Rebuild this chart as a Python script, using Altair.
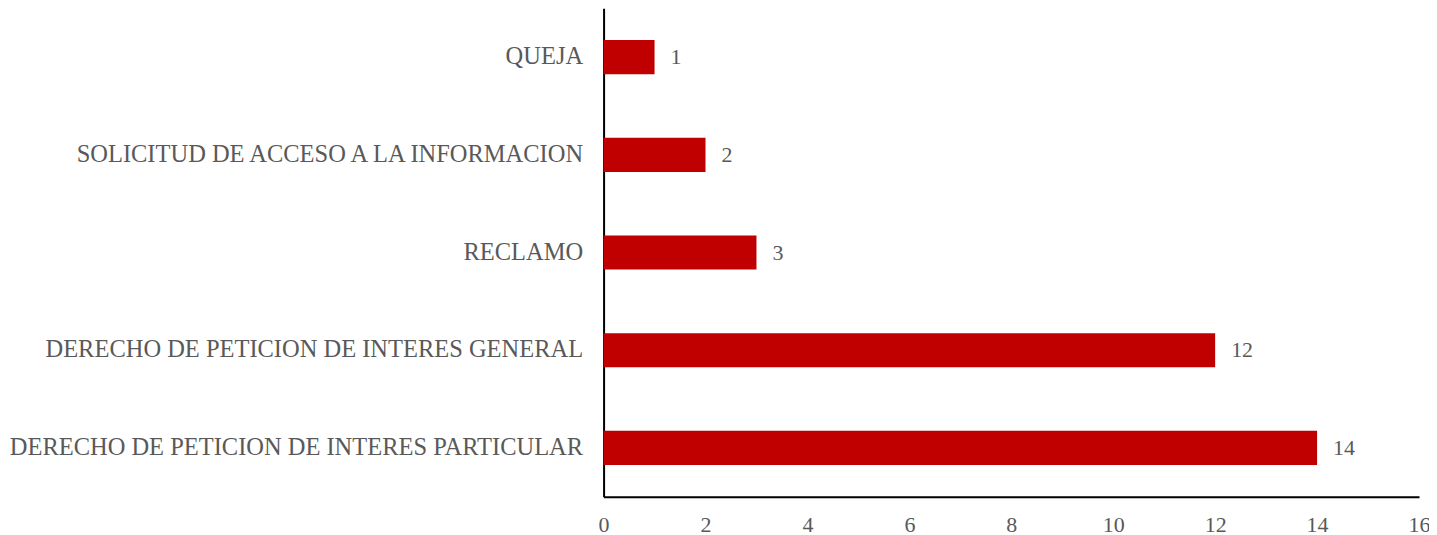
import altair as alt
import pandas as pd

categories = [
    "QUEJA",
    "SOLICITUD DE ACCESO A LA INFORMACION",
    "RECLAMO",
    "DERECHO DE PETICION DE INTERES GENERAL",
    "DERECHO DE PETICION DE INTERES PARTICULAR",
]
values = [1, 2, 3, 12, 14]
x_ticks = [0, 2, 4, 6, 8, 10, 12, 14, 16]

df = pd.DataFrame({"cat": categories, "val": values})

FONT = "Liberation Serif"
GRAY = "#595959"

base = alt.Chart(df).encode(
    y=alt.Y("cat:N", sort=categories, title=None,
            scale=alt.Scale(paddingInner=0.65, paddingOuter=0.325),
            axis=alt.Axis(ticks=False, labelPadding=21, labelFont=FONT,
                          labelFontSize=24.5, labelColor=GRAY, labelLimit=1000,
                          domainColor="black", domainWidth=2)),
    x=alt.X("val:Q", title=None,
            scale=alt.Scale(domain=[0, 16], nice=False),
            axis=alt.Axis(values=x_ticks, ticks=False, grid=False, labelPadding=18,
                          labelFlush=False,
                          labelFont=FONT, labelFontSize=22, labelColor=GRAY,
                          domainColor="black", domainWidth=2)),
)

bars = base.mark_bar(color="#C00000")
text = base.mark_text(align="left", dx=16, font=FONT, fontSize=22, color=GRAY).encode(
    text="val:Q")

chart = (bars + text).properties(
    width=816, height=489,
    autosize=alt.AutoSizeParams(type="none"),
    padding={"left": 596, "top": 0, "right": 10, "bottom": 40},
).configure_view(stroke=None)

chart.save("out.html", embed_options={"renderer": "svg", "actions": False})
